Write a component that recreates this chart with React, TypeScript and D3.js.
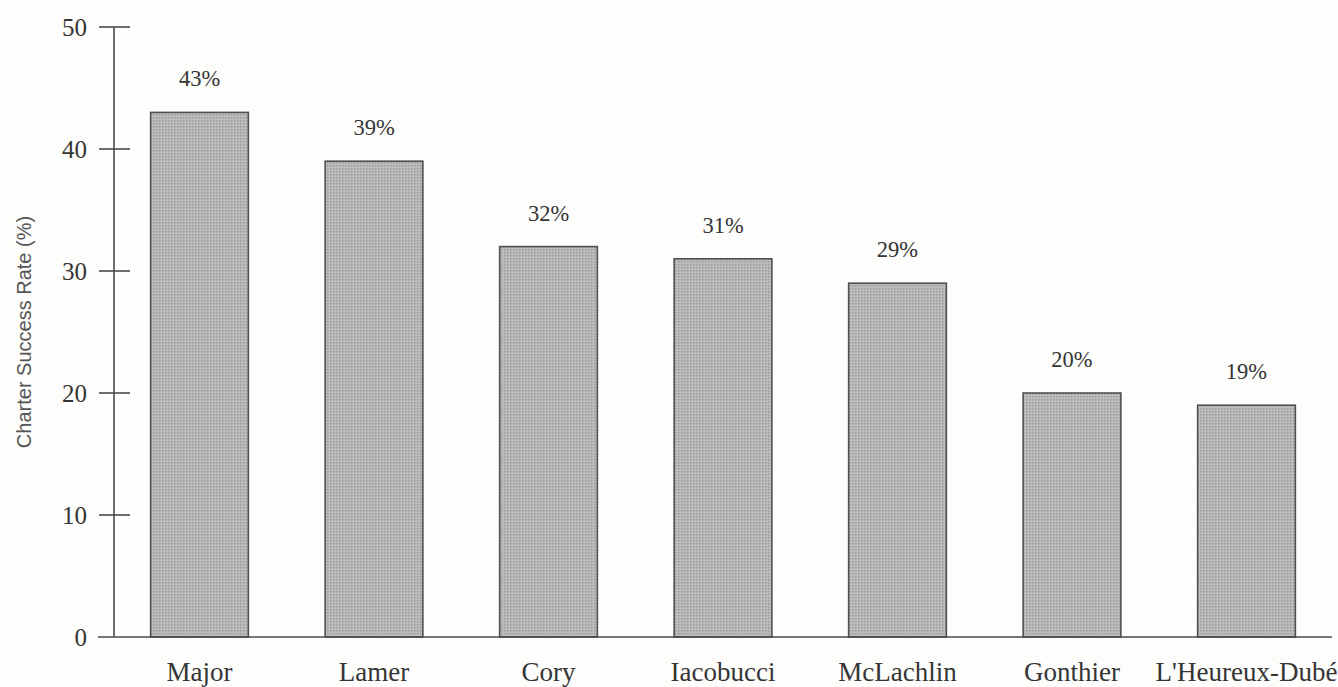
import * as d3 from 'd3';

const judges = ['Major', 'Lamer', 'Cory', 'Iacobucci', 'McLachlin', 'Gonthier', "L'Heureux-Dubé"];
const successRates = [43, 39, 32, 31, 29, 20, 19];
const yTicks = [0, 10, 20, 30, 40, 50];

const WIDTH = 1338;
const HEIGHT = 687;
const margin = { top: 27, right: 6, bottom: 50, left: 114 };

const serif = '"Liberation Serif", "DejaVu Serif", serif';
const sans = '"Liberation Sans", Arial, sans-serif';

export default function App() {
  const innerHeight = HEIGHT - margin.top - margin.bottom;

  const x = d3
    .scaleBand<string>()
    .domain(judges)
    .range([margin.left, WIDTH - margin.right])
    .paddingInner(0.44)
    .paddingOuter(0.21);

  const y = d3
    .scaleLinear()
    .domain([0, 50])
    .range([margin.top + innerHeight, margin.top]);

  const axisColor = '#4a4a4a';
  const textColor = '#353535';

  return (
    <svg
      width={WIDTH}
      height={HEIGHT}
      style={{ position: 'absolute', left: 0, top: 0, background: '#fdfdfc' }}
    >
      <defs>
        <pattern id="halftone" width="3" height="3" patternUnits="userSpaceOnUse">
          <rect width="3" height="3" fill="#bdbdbd" />
          <rect width="1.5" height="1.5" fill="#999" />
        </pattern>
      </defs>

      {/* bars */}
      {judges.map((name, i) => (
        <rect
          key={name}
          x={x(name)}
          y={y(successRates[i])}
          width={x.bandwidth()}
          height={y(0) - y(successRates[i])}
          fill="url(#halftone)"
          stroke="#505050"
          strokeWidth={1.6}
        />
      ))}

      {/* value labels */}
      {judges.map((name, i) => (
        <text
          key={name + '-v'}
          x={(x(name) || 0) + x.bandwidth() / 2}
          y={y(successRates[i]) - 26}
          textAnchor="middle"
          fontFamily={serif}
          fontSize={22.5}
          fill={textColor}
        >
          {successRates[i]}%
        </text>
      ))}

      {/* x axis */}
      <line
        x1={margin.left - 16}
        x2={WIDTH - margin.right}
        y1={y(0)}
        y2={y(0)}
        stroke={axisColor}
        strokeWidth={1.6}
      />
      {judges.map((name) => (
        <text
          key={name + '-l'}
          x={(x(name) || 0) + x.bandwidth() / 2}
          y={681}
          textAnchor="middle"
          fontFamily={serif}
          fontSize={27}
          fill={textColor}
        >
          {name}
        </text>
      ))}

      {/* y axis */}
      <line
        x1={margin.left}
        x2={margin.left}
        y1={y(50)}
        y2={y(0)}
        stroke={axisColor}
        strokeWidth={1.6}
      />
      {yTicks.map((t) => (
        <g key={t}>
          {t > 0 && (
            <line
              x1={margin.left - 15}
              x2={margin.left + 16}
              y1={y(t)}
              y2={y(t)}
              stroke={axisColor}
              strokeWidth={1.6}
            />
          )}
          <text
            x={87}
            y={y(t)}
            dy="0.35em"
            textAnchor="end"
            fontFamily={serif}
            fontSize={25}
            fill={textColor}
          >
            {t}
          </text>
        </g>
      ))}

      <text
        transform={`translate(31,${(y(0) + y(50)) / 2}) rotate(-90)`}
        textAnchor="middle"
        fontFamily={sans}
        fontSize={20}
        fill="#555"
      >
        Charter Success Rate (%)
      </text>
    </svg>
  );
}
